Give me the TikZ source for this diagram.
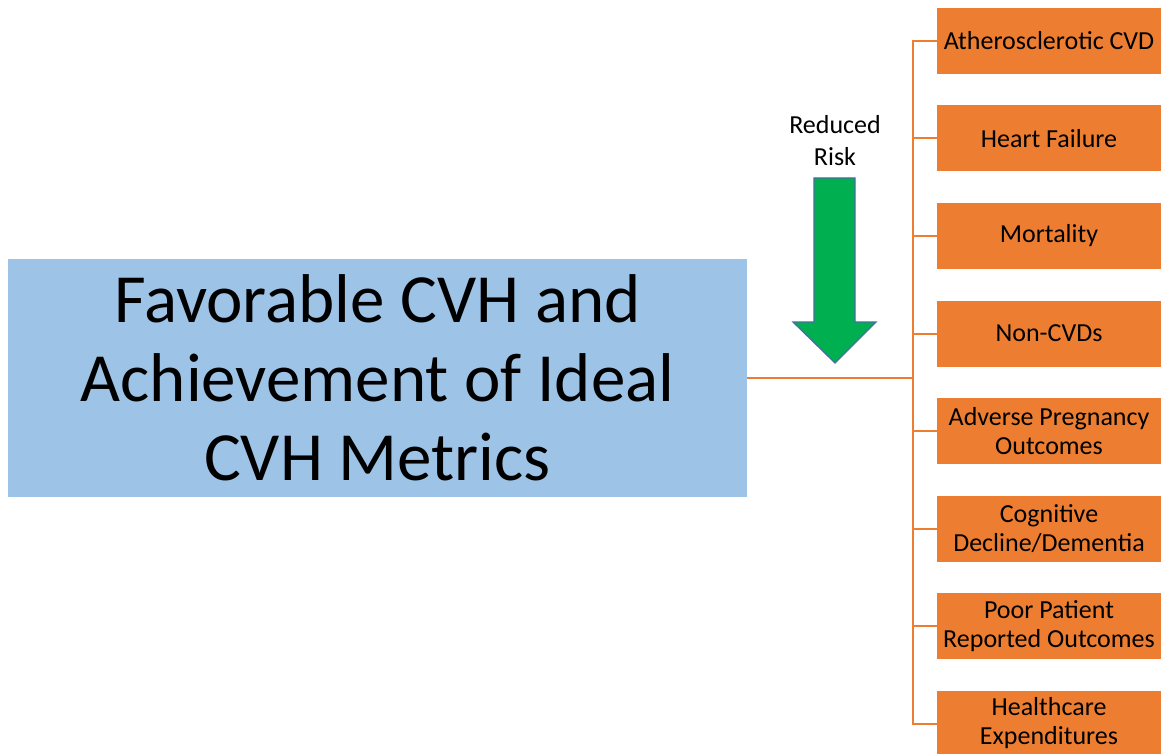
\documentclass[tikz,border=0pt]{standalone}
\usepackage{fontspec}
\setmainfont{Carlito}
\definecolor{cvhblue}{HTML}{9DC3E6}
\definecolor{cvhorange}{HTML}{ED7D31}
\definecolor{cvhgreen}{HTML}{00B050}
\definecolor{arrowedge}{HTML}{41719C}
\begin{document}
\begin{tikzpicture}[x=1pt,y=-1pt,
  mainbox/.style={fill=cvhblue, draw=none, minimum width=739pt, minimum height=238pt, inner sep=0pt, align=center, font=\fontsize{69}{79}\selectfont},
  outbox/.style={fill=cvhorange, draw=none, minimum width=224pt, minimum height=66pt, inner sep=0pt, align=center, font=\fontsize{26}{29}\selectfont},
  link/.style={draw=cvhorange, line width=2pt},
  risklabel/.style={align=center, font=\fontsize{26}{32}\selectfont, inner sep=0pt}
]
\useasboundingbox (0,0) rectangle (1166,754);
\fill[white] (0,0) rectangle (1166,754);

\node[mainbox] (main) at (377.5,378) {Favorable CVH and\\Achievement of Ideal\\CVH Metrics};

\node[outbox] (b1) at (1049,41) {Atherosclerotic CVD};
\node[outbox] (b2) at (1049,138.5) {Heart Failure};
\node[outbox] (b3) at (1049,236) {Mortality};
\node[outbox] (b4) at (1049,333.5) {Non-CVDs};
\node[outbox] (b5) at (1049,431) {Adverse Pregnancy\\Outcomes};
\node[outbox] (b6) at (1049,528.5) {Cognitive\\Decline/Dementia};
\node[outbox] (b7) at (1049,626) {Poor Patient\\Reported Outcomes};
\node[outbox] (b8) at (1049,723.5) {Healthcare\\Expenditures};

\coordinate (hub) at (913,378);
\coordinate (top) at (913,41);
\coordinate (bot) at (913,723.5);
\draw[link] (main.east) -- (hub);
\draw[link, line cap=rect] (top) -- (bot);
\foreach \i in {1,...,8} {
  \draw[link] (b\i.west -| hub) -- (b\i.west);
}

\node[risklabel] (risk) at (835,141) {Reduced\\Risk};
\draw[fill=cvhgreen, draw=arrowedge, line width=1.2pt, line join=miter]
  (814,178) -- (855,178) -- (855,322) -- (876,322) -- (835,363) -- (793,322) -- (814,322) -- cycle;
\end{tikzpicture}
\end{document}
